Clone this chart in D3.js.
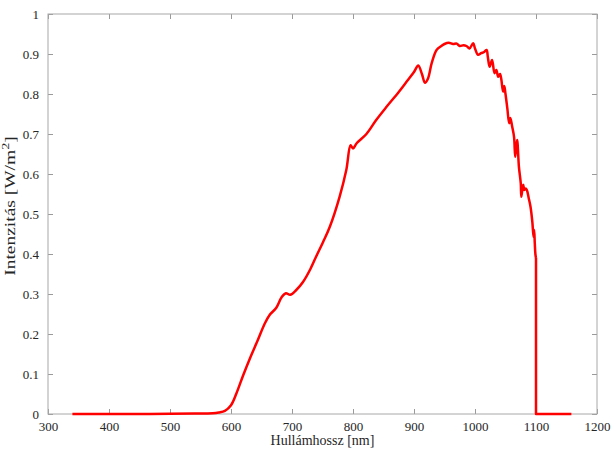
<!DOCTYPE html>
<html>
<head>
<meta charset="utf-8">
<script src="https://cdn.jsdelivr.net/npm/d3@7"></script>
<style>
  body { margin: 0; background: #fff; }
</style>
</head>
<body>
<div class="chart"></div>
<script>
// wavelength [nm] and intensity [W/m^2]
const wavelength = [340, 400, 450, 500, 540, 570, 580, 590, 600, 609, 620, 631, 644, 655, 663, 674, 683, 690, 697, 707,
  718, 730, 740, 751, 762, 778, 789, 796, 800, 806, 822, 838, 855, 875, 888, 900, 907, 913, 918, 923, 929, 937,
  945, 950, 957, 964, 970, 975, 981, 986, 991, 997, 1000, 1005, 1010, 1015, 1019, 1021, 1024, 1028, 1032, 1035,
  1038, 1041, 1043, 1046, 1048, 1050, 1053, 1056, 1058, 1061, 1064, 1066, 1069, 1072, 1075, 1076, 1079, 1081, 1083, 1085,
  1088, 1091, 1094, 1096, 1097, 1098, 1099, 1100, 1100, 1158]
const intensity = [0, 0, 0, 0.0005, 0.001, 0.002, 0.004, 0.008, 0.022, 0.052, 0.097, 0.139, 0.185, 0.225, 0.247, 0.265, 0.292, 0.302, 0.298, 0.31,
  0.33, 0.362, 0.395, 0.43, 0.468, 0.543, 0.61, 0.672, 0.664, 0.677, 0.70, 0.735, 0.768, 0.805, 0.831, 0.855, 0.871, 0.85, 0.828, 0.839, 0.877, 0.91,
  0.92, 0.925, 0.928, 0.925, 0.926, 0.92, 0.922, 0.92, 0.914, 0.927, 0.914, 0.898, 0.902, 0.905, 0.91, 0.893, 0.868, 0.885, 0.852, 0.86,
  0.843, 0.85, 0.838, 0.806, 0.82, 0.80, 0.764, 0.727, 0.74, 0.718, 0.693, 0.643, 0.685, 0.618, 0.577, 0.543, 0.573, 0.56, 0.564, 0.56,
  0.54, 0.518, 0.48, 0.443, 0.46, 0.427, 0.40, 0.39, 0, 0]
const xTicks = [300, 400, 500, 600, 700, 800, 900, 1000, 1100, 1200]
const yTicks = [0, 0.1, 0.2, 0.3, 0.4, 0.5, 0.6, 0.7, 0.8, 0.9, 1]

const data = wavelength.map((w, i) => ({w: w, v: intensity[i]}))
// the cut-off at 1100 nm is a straight drop, keep it out of the smoothing
const cut = data.length - 3
const smooth = data.slice(0, cut + 1)
const tail = data.slice(cut)

const serif = "'Liberation Serif', 'Times New Roman', Times, serif"

const margin = {top: 14, right: 14, bottom: 36, left: 48}
const width = 611 - margin.left - margin.right
const height = 450 - margin.top - margin.bottom

const svg = d3.select('.chart').append("svg")
    .attr("width", 611)
    .attr("height", 450)
  .append("g")
    .attr("transform", "translate(" + margin.left + "," + margin.top + ")")

const x = d3.scaleLinear().domain([300, 1200]).range([0, width])
const y = d3.scaleLinear().domain([0, 1]).range([height, 0])

const fmt = d => d3.format("")(d)

// bottom / left axes with inward ticks, plus mirrored top / right ticks
svg.append("g")
    .attr("transform", `translate(0, ${height})`)
    .call(d3.axisBottom(x).tickValues(xTicks).tickSize(-5).tickPadding(8).tickFormat(fmt))
    .call(g => g.select(".domain").remove())
svg.append("g")
    .call(d3.axisLeft(y).tickValues(yTicks).tickSize(-5).tickPadding(9).tickFormat(fmt))
    .call(g => g.select(".domain").remove())
svg.append("g")
    .call(d3.axisTop(x).tickValues(xTicks).tickSize(-5).tickFormat(""))
    .call(g => g.select(".domain").remove())
svg.append("g")
    .attr("transform", `translate(${width}, 0)`)
    .call(d3.axisRight(y).tickValues(yTicks).tickSize(-5).tickFormat(""))
    .call(g => g.select(".domain").remove())

svg.selectAll(".tick line").attr("stroke", "#9a9a9a")
svg.selectAll(".tick text")
    .style("font-family", serif)
    .style("font-size", "13px")
    .attr("fill", "#262626")

svg.append("rect")
    .attr("width", width)
    .attr("height", height)
    .attr("fill", "none")
    .attr("stroke", "#a8a8a8")
    .attr("stroke-width", 1)

const line = d3.line()
    .curve(d3.curveCatmullRom.alpha(0.5))
    .x(d => x(d.w))
    .y(d => y(d.v))

const straight = d3.line()
    .x(d => x(d.w))
    .y(d => y(d.v))

svg.append("path")
    .datum(smooth)
    .attr("fill", "none")
    .attr("stroke", "#f00")
    .attr("stroke-width", 2.5)
    .attr("stroke-linejoin", "round")
    .attr("d", line)

svg.append("path")
    .datum(tail)
    .attr("fill", "none")
    .attr("stroke", "#f00")
    .attr("stroke-width", 2.5)
    .attr("stroke-linejoin", "round")
    .attr("d", straight)

svg.append("text")
    .attr("x", width / 2)
    .attr("y", height + 31)
    .attr("text-anchor", "middle")
    .style("font-family", serif)
    .style("font-size", "14px")
    .attr("fill", "#262626")
    .text("Hullámhossz [nm]")

// the y label in the reference is drawn stretched along its length
const yl = svg.append("text")
    .attr("transform", `translate(-33, ${height / 2 - 8}) rotate(-90) scale(1.3, 1)`)
    .attr("text-anchor", "middle")
    .style("font-family", serif)
    .style("font-size", "15px")
    .attr("fill", "#262626")
yl.append("tspan").text("Intenzitás [W/m")
yl.append("tspan").style("font-size", "11px").attr("dy", -6).text("2")
yl.append("tspan").attr("dy", 6).text("]")
</script>
</body>
</html>
